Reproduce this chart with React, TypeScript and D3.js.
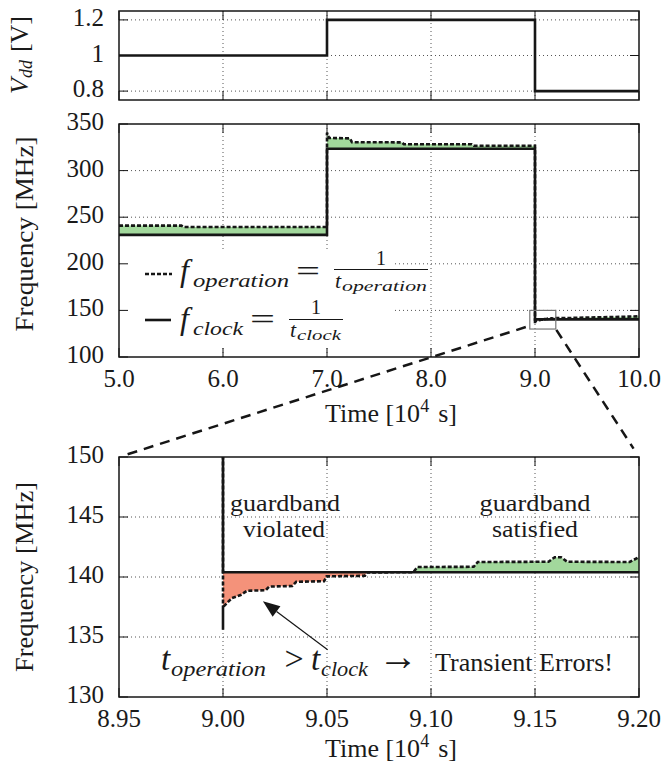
import * as d3 from 'd3';
import React from 'react';

const FONT = "'Liberation Serif', 'Times New Roman', serif";
const GREEN = '#a2d89c';
const RED = '#f4927a';
const INK = '#161616';
const TEXT = '#1a1a1a';

// supply voltage schedule
const vddTimes = [5.0, 7.0, 9.0, 10.0];
const vddVolts = [1.0, 1.2, 0.8, 0.8];

// clock frequency (steps)
const clockTimes = [5.0, 7.0, 9.0, 10.0];
const clockMHz = [231, 323.5, 140.4, 140.4];

// frequency the circuit can actually run at (1 / t_operation)
const operationTimes = [
  5.0, 5.6, 5.62, 7.0, 7.0, 7.02, 7.22, 7.24, 7.72, 7.74, 8.39, 8.41, 9.0, 9.0, 9.0,
  9.0006, 9.0043, 9.0085, 9.0115, 9.0205, 9.0222, 9.0333, 9.0352, 9.0486, 9.0498,
  9.0682, 9.0692, 9.0915, 9.0935, 9.1205, 9.1225, 9.1565, 9.1595, 9.1625, 9.1655,
  9.1955, 9.2005, 9.3, 9.5, 9.7, 9.9, 10.0,
];
const operationMHz = [
  241, 241, 239.5, 239.5, 340.5, 335, 334.6, 330.5, 330.3, 328.3, 328.2, 326.7, 326.7, 135.6, 137.5,
  137.6, 138.25, 138.5, 138.85, 138.9, 139.2, 139.25, 139.6, 139.65, 140.05,
  140.1, 140.38, 140.4, 140.83, 140.85, 141.25, 141.27, 141.65, 141.65, 141.27,
  141.25, 141.7, 141.8, 142.3, 142.8, 143.3, 143.6,
];

const overviewTicks = [5, 6, 7, 8, 9, 10];
const zoomTimeTicks = [8.95, 9.0, 9.05, 9.1, 9.15, 9.2];
const vddTicks = [0.8, 1.0, 1.2];
const freqTicks = [100, 150, 200, 250, 300, 350];
const zoomFreqTicks = [130, 135, 140, 145, 150];

const LEFT = 119;
const RIGHT = 639;

const xMain = d3.scaleLinear().domain([5, 10]).range([LEFT, RIGHT]);
const xZoom = d3.scaleLinear().domain([8.95, 9.2]).range([LEFT, RIGHT]);
const yVdd = d3.scaleLinear().domain([0.75, 1.25]).range([100, 11]);
const yFreq = d3.scaleLinear().domain([100, 350]).range([357, 124]);
const yZoom = d3.scaleLinear().domain([130, 150]).range([697, 457]);

const vdd = vddTimes.map((t, i) => [t, vddVolts[i]]);
const clock = clockTimes.map((t, i) => [t, clockMHz[i]]);
const operation = operationTimes.map((t, i) => [t, operationMHz[i]]);

const serif = (size: number, italic = false): React.CSSProperties => ({
  fontFamily: FONT,
  fontSize: size,
  fontStyle: italic ? 'italic' : 'normal',
});

function Panel({ id, x, y, xTicks, yTicks, xFmt, yFmt, children, overlay }: any) {
  const [xa, xb] = x.range();
  const [yb, ya] = y.range();
  const xd = x.domain();
  const yd = y.domain();
  const inner = (v: number, d: number[]) => Math.abs(v - d[0]) > 1e-9 && Math.abs(v - d[1]) > 1e-9;
  const TL = 9;
  return (
    <g>
      <defs>
        <clipPath id={id}>
          <rect x={xa} y={ya} width={xb - xa} height={yb - ya} />
        </clipPath>
      </defs>
      <g stroke="#555" strokeWidth={1} strokeDasharray="1,3">
        {xTicks.filter((t: number) => inner(t, xd)).map((t: number) => (
          <line key={'gx' + t} x1={x(t)} x2={x(t)} y1={ya} y2={yb} />
        ))}
        {yTicks.filter((t: number) => inner(t, yd)).map((t: number) => (
          <line key={'gy' + t} x1={xa} x2={xb} y1={y(t)} y2={y(t)} />
        ))}
      </g>
      <g clipPath={`url(#${id})`}>{children}</g>
      {overlay}
      <g stroke={INK} strokeWidth={1}>
        {xTicks.map((t: number) => (
          <g key={'tx' + t}>
            <line x1={x(t)} x2={x(t)} y1={yb} y2={yb - TL} />
            <line x1={x(t)} x2={x(t)} y1={ya} y2={ya + TL} />
          </g>
        ))}
        {yTicks.map((t: number) => (
          <g key={'ty' + t}>
            <line x1={xa} x2={xa + TL} y1={y(t)} y2={y(t)} />
            <line x1={xb} x2={xb - TL} y1={y(t)} y2={y(t)} />
          </g>
        ))}
      </g>
      <rect x={xa} y={ya} width={xb - xa} height={yb - ya} fill="none" stroke={INK} strokeWidth={1.5} />
      <g fill={TEXT} style={serif(25)}>
        {yTicks.map((t: number) => (
          <text key={'ly' + t} x={104} y={y(t) + 6} textAnchor="end">{yFmt(t)}</text>
        ))}
        {xFmt && xTicks.map((t: number) => (
          <text key={'lx' + t} x={x(t)} y={yb + 29.5} textAnchor="middle">{xFmt(t)}</text>
        ))}
      </g>
    </g>
  );
}

function FreqSeries({ id, x, y }: any) {
  const [yb, ya] = y.range();
  const px = (d: number[]) => x(d[0]);
  const py = (d: number[]) => y(d[1]);
  const stepLine = d3.line<number[]>().x(px).y(py).curve(d3.curveStepAfter);
  const opLine = d3.line<number[]>().x(px).y(py);
  const aboveClock = d3.area<number[]>().x(px).y0(ya - 5).y1(py).curve(d3.curveStepAfter);
  const belowClock = d3.area<number[]>().x(px).y0(py).y1(yb + 5).curve(d3.curveStepAfter);
  const underOp = d3.area<number[]>().x(px).y0(yb + 5).y1(py);
  const overOp = d3.area<number[]>().x(px).y0(ya - 5).y1(py);
  return (
    <g>
      <defs>
        <clipPath id={id + '-above'}><path d={aboveClock(clock) || ''} /></clipPath>
        <clipPath id={id + '-below'}><path d={belowClock(clock) || ''} /></clipPath>
      </defs>
      <path d={underOp(operation) || ''} fill={GREEN} clipPath={`url(#${id}-above)`} />
      <path d={overOp(operation) || ''} fill={RED} clipPath={`url(#${id}-below)`} />
      <path d={stepLine(clock) || ''} fill="none" stroke={INK} strokeWidth={2.6} />
      <path d={opLine(operation) || ''} fill="none" stroke={INK} strokeWidth={2.6} strokeDasharray="4,2" />
    </g>
  );
}

function Legend() {
  return (
    <g fill={TEXT}>
      <rect x={121} y={251} width={272} height={94} fill="#fff" />
      <line x1={145} x2={172} y1={274} y2={274} stroke={INK} strokeWidth={2.6} strokeDasharray="4,2" />
      <text x={180} y={281} style={serif(32, true)}>f</text>
      <text x={193} y={287} style={serif(19, true)} textLength={96} lengthAdjust="spacingAndGlyphs">operation</text>
      <text x={296} y={281} style={serif(30)} textLength={24} lengthAdjust="spacingAndGlyphs">=</text>
      <text x={381} y={265} style={serif(20)} textAnchor="middle">1</text>
      <line x1={334} x2={428} y1={269.5} y2={269.5} stroke={INK} strokeWidth={1.2} />
      <text x={335} y={288} style={serif(22, true)}>t</text>
      <text x={342} y={291} style={serif(15, true)} textLength={85} lengthAdjust="spacingAndGlyphs">operation</text>

      <line x1={145} x2={171} y1={320} y2={320} stroke={INK} strokeWidth={2.6} />
      <text x={180} y={329} style={serif(32, true)}>f</text>
      <text x={193} y={335} style={serif(19, true)} textLength={50} lengthAdjust="spacingAndGlyphs">clock</text>
      <text x={250} y={329} style={serif(30)} textLength={25} lengthAdjust="spacingAndGlyphs">=</text>
      <text x={316} y={314} style={serif(20)} textAnchor="middle">1</text>
      <line x1={289} x2={343} y1={319.5} y2={319.5} stroke={INK} strokeWidth={1.2} />
      <text x={290} y={337} style={serif(22, true)}>t</text>
      <text x={297} y={340} style={serif(15, true)} textLength={44} lengthAdjust="spacingAndGlyphs">clock</text>
    </g>
  );
}

function ZoomNotes() {
  const tip = [xZoom(9.0192), yZoom(137.97)];
  const tail = [xZoom(9.0503), yZoom(133.94)];
  const ang = Math.atan2(tip[1] - tail[1], tip[0] - tail[0]);
  const hl = 17;
  const hw = 6.5;
  const bx = tip[0] - hl * Math.cos(ang);
  const by = tip[1] - hl * Math.sin(ang);
  const head = [
    [tip[0], tip[1]],
    [bx + hw * Math.sin(ang), by - hw * Math.cos(ang)],
    [bx - hw * Math.sin(ang), by + hw * Math.cos(ang)],
  ];
  return (
    <g fill={TEXT}>
      <text x={285} y={510.5} style={serif(24)} textAnchor="middle" textLength={110} lengthAdjust="spacingAndGlyphs">guardband</text>
      <text x={284} y={536.5} style={serif(24)} textAnchor="middle" textLength={82} lengthAdjust="spacingAndGlyphs">violated</text>
      <text x={535} y={510.5} style={serif(24)} textAnchor="middle" textLength={111} lengthAdjust="spacingAndGlyphs">guardband</text>
      <text x={535} y={536.5} style={serif(24)} textAnchor="middle" textLength={86} lengthAdjust="spacingAndGlyphs">satisfied</text>

      <line x1={tail[0]} y1={tail[1]} x2={bx} y2={by} stroke={INK} strokeWidth={1.2} />
      <polygon points={head.map((p) => p.join(',')).join(' ')} fill={INK} />

      <text x={161} y={670} style={serif(33, true)}>t</text>
      <text x={171} y={676} style={serif(21, true)} textLength={95} lengthAdjust="spacingAndGlyphs">operation</text>
      <text x={294} y={670} style={serif(34)} textAnchor="middle">&gt;</text>
      <text x={311} y={670} style={serif(33, true)}>t</text>
      <text x={321} y={676} style={serif(21, true)} textLength={47} lengthAdjust="spacingAndGlyphs">clock</text>
      <text x={398} y={670} style={serif(40)} textAnchor="middle">→</text>
      <text x={435} y={671} style={serif(25)} textLength={178} lengthAdjust="spacingAndGlyphs">Transient Errors!</text>
    </g>
  );
}

function TimeLabel({ y }: { y: number }) {
  return (
    <text x={325} y={y} style={serif(26)} fill={TEXT}>
      Time [10<tspan style={{ fontSize: 18 }} dy={-10}>4</tspan>
      <tspan dy={10} dx={9}>s]</tspan>
    </text>
  );
}

export default function App() {
  const vddLine = d3.line<number[]>().x((d) => xMain(d[0])).y((d) => yVdd(d[1])).curve(d3.curveStepAfter);
  const fmt1 = d3.format('.1f');
  const fmt2 = d3.format('.2f');

  // zoom window drawn in the overview panel
  const bx0 = xMain(8.95);
  const bx1 = xMain(9.2);
  const by0 = yFreq(150);
  const by1 = yFreq(130);
  const shorten = (a: number[], b: number[], s0: number, s1: number) => {
    const dx = b[0] - a[0];
    const dy = b[1] - a[1];
    const len = Math.hypot(dx, dy);
    return [a[0] + (dx * s0) / len, a[1] + (dy * s0) / len, b[0] - (dx * s1) / len, b[1] - (dy * s1) / len];
  };
  const leftConn = shorten([bx0 - 4, by1 - 2], [xZoom(8.95), yZoom(150)], 0, 7);
  const rightConn = shorten([bx1, by1], [xZoom(9.2), yZoom(150)], 1, 10);

  return (
    <svg width={671} height={763} style={{ position: 'absolute', left: 0, top: 0, background: '#fff', fontFamily: FONT }}>
      <rect width={671} height={763} fill="#fff" />

      <Panel id="vdd" x={xMain} y={yVdd} xTicks={overviewTicks} yTicks={vddTicks} yFmt={(v: number) => (v === 1 ? '1' : fmt1(v))}>
        <path d={vddLine(vdd) || ''} fill="none" stroke={INK} strokeWidth={2.6} />
      </Panel>

      <Panel id="freq" x={xMain} y={yFreq} xTicks={overviewTicks} yTicks={freqTicks} xFmt={fmt1} yFmt={(v: number) => String(v)} overlay={<Legend />}>
        <FreqSeries id="freq-s" x={xMain} y={yFreq} />
      </Panel>
      <rect x={bx0} y={by0} width={bx1 - bx0} height={by1 - by0} fill="none" stroke="#777" strokeWidth={1.2} />

      <Panel id="zoom" x={xZoom} y={yZoom} xTicks={zoomTimeTicks} yTicks={zoomFreqTicks} xFmt={fmt2} yFmt={(v: number) => String(v)} overlay={<ZoomNotes />}>
        <FreqSeries id="zoom-s" x={xZoom} y={yZoom} />
      </Panel>

      <g stroke={INK} strokeWidth={2.5} strokeDasharray="10,7">
        <line x1={leftConn[0]} y1={leftConn[1]} x2={leftConn[2]} y2={leftConn[3]} />
        <line x1={rightConn[0]} y1={rightConn[1]} x2={rightConn[2]} y2={rightConn[3]} />
      </g>

      <g fill={TEXT}>
        <text transform="translate(28,55) rotate(-90)" textAnchor="middle" style={serif(26)}>
          <tspan style={{ fontStyle: 'italic' }}>V</tspan>
          <tspan style={{ fontStyle: 'italic', fontSize: 18 }} dy={4}>dd</tspan>
          <tspan dy={-4} dx={8}>[V]</tspan>
        </text>
        <text transform="translate(33,234) rotate(-90)" textAnchor="middle" style={serif(26)} textLength={195} lengthAdjust="spacingAndGlyphs">Frequency [MHz]</text>
        <text transform="translate(33,577) rotate(-90)" textAnchor="middle" style={serif(26)} textLength={190} lengthAdjust="spacingAndGlyphs">Frequency [MHz]</text>
      </g>
      <TimeLabel y={421.5} />
      <TimeLabel y={756.5} />
    </svg>
  );
}
